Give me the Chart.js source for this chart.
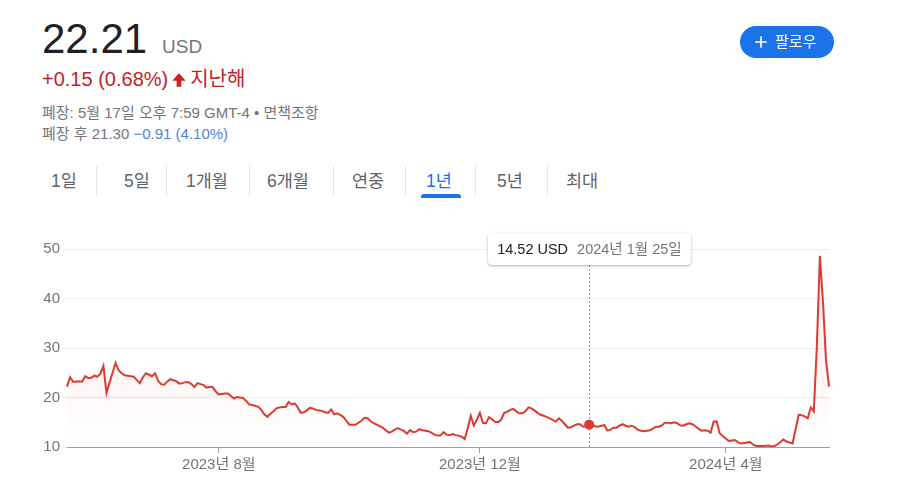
<!DOCTYPE html>
<html lang="ko">
<head>
<meta charset="utf-8">
<script src="https://cdn.jsdelivr.net/npm/chart.js@4.4.1/dist/chart.umd.min.js"></script>
<style>
  body { margin: 0; width: 900px; height: 500px; background: #fff; position: relative; overflow: hidden;
         font-family: "Liberation Sans", Arial, "Noto Sans CJK KR", sans-serif; color: #202124; }
  .abs { position: absolute; white-space: nowrap; }
  #quote { left: 42px; top: 18px; line-height: 1; }
  #quote .big { font-size: 42px; }
  #quote .cur { font-size: 19px; color: #70757a; margin-left: 15px; }
  #change { left: 42px; top: 69px; font-size: 20px; line-height: 20px; color: #c5221f; }
  #change svg { vertical-align: -2px; margin: 0 3px 0 3px; }
  .meta { left: 42px; font-size: 15px; line-height: 15px; color: #70757a; }
  .meta .neg { color: #4f83dc; }
  #follow { left: 740px; top: 26px; width: 94px; height: 32px; border-radius: 16px; background: #1a73e8;
            color: #fff; font-size: 15px; line-height: 32px; }
  #follow svg { position: absolute; left: 11px; top: 6px; }
  #follow span { position: absolute; left: 35px; }
  .tab { top: 169px; font-size: 17.5px; line-height: 24px; color: #5f6368; }
  .tab.on { color: #1a73e8; }
  .sep { top: 166px; width: 1px; height: 30px; background: #e3e5e8; }
  #underline { left: 421px; top: 194px; width: 40px; height: 4px; border-radius: 3px 3px 0 0; background: #1a73e8; }
  #chart { position: absolute; left: 0; top: 220px; }
  #tip { top: 233px; height: 32px; line-height: 32px; padding: 0 9px; background: #fff; border-radius: 4px;
         box-shadow: 0 1px 3px rgba(60,64,67,0.3), 0 1px 2px rgba(60,64,67,0.15); font-size: 14.5px; }
  #tip .tp { color: #202124; }
  #tip .td { color: #70757a; margin-left: 9px; }
</style>
</head>
<body>

<div id="quote" class="abs"><span class="big">22.21</span><span class="cur">USD</span></div>
<div id="change" class="abs">+0.15 (0.68%)<svg width="16" height="16" viewBox="0 0 24 24"><path fill="#c5221f" d="M12 2L22 13H15.5V22H8.5V13H2Z"/></svg>지난해</div>
<div class="abs meta" style="top:105px">폐장: 5월 17일 오후 7:59 GMT-4 • 면책조항</div>
<div class="abs meta" style="top:126px">폐장 후 21.30 <span class="neg">−0.91 (4.10%)</span></div>

<div id="follow" class="abs"><svg width="20" height="20" viewBox="0 0 24 24"><path fill="#fff" d="M19 13h-6v6h-2v-6H5v-2h6V5h2v6h6v2z"/></svg><span>팔로우</span></div>

<div class="abs tab" style="left:51px">1일</div>
<div class="abs tab" style="left:124px">5일</div>
<div class="abs tab" style="left:186px">1개월</div>
<div class="abs tab" style="left:267px">6개월</div>
<div class="abs tab" style="left:352px">연중</div>
<div class="abs tab on" style="left:426px">1년</div>
<div class="abs tab" style="left:497px">5년</div>
<div class="abs tab" style="left:566px">최대</div>
<div class="abs sep" style="left:96px"></div>
<div class="abs sep" style="left:166px"></div>
<div class="abs sep" style="left:249px"></div>
<div class="abs sep" style="left:333px"></div>
<div class="abs sep" style="left:405px"></div>
<div class="abs sep" style="left:475px"></div>
<div class="abs sep" style="left:547px"></div>
<div id="underline" class="abs"></div>

<canvas id="chart" width="900" height="280"></canvas>
<div id="tip" class="abs"><span class="tp"></span><span class="td"></span></div>

<script>
// trading days, 1 year
const tradingDates = [
  '2023-05-18','2023-05-19','2023-05-22','2023-05-23','2023-05-24','2023-05-25','2023-05-26','2023-05-30','2023-05-31',
  '2023-06-01','2023-06-02','2023-06-05','2023-06-06','2023-06-07','2023-06-08','2023-06-09','2023-06-12','2023-06-13','2023-06-14','2023-06-15','2023-06-16','2023-06-20','2023-06-21','2023-06-22','2023-06-23','2023-06-26','2023-06-27','2023-06-28','2023-06-29','2023-06-30',
  '2023-07-03','2023-07-05','2023-07-06','2023-07-07','2023-07-10','2023-07-11','2023-07-12','2023-07-13','2023-07-14','2023-07-17','2023-07-18','2023-07-19','2023-07-20','2023-07-21','2023-07-24','2023-07-25','2023-07-26','2023-07-27','2023-07-28','2023-07-31',
  '2023-08-01','2023-08-02','2023-08-03','2023-08-04','2023-08-07','2023-08-08','2023-08-09','2023-08-10','2023-08-11','2023-08-14','2023-08-15','2023-08-16','2023-08-17','2023-08-18','2023-08-21','2023-08-22','2023-08-23','2023-08-24','2023-08-25','2023-08-28','2023-08-29','2023-08-30','2023-08-31',
  '2023-09-01','2023-09-05','2023-09-06','2023-09-07','2023-09-08','2023-09-11','2023-09-12','2023-09-13','2023-09-14','2023-09-15','2023-09-18','2023-09-19','2023-09-20','2023-09-21','2023-09-22','2023-09-25','2023-09-26','2023-09-27','2023-09-28','2023-09-29',
  '2023-10-02','2023-10-03','2023-10-04','2023-10-05','2023-10-06','2023-10-09','2023-10-10','2023-10-11','2023-10-12','2023-10-13','2023-10-16','2023-10-17','2023-10-18','2023-10-19','2023-10-20','2023-10-23','2023-10-24','2023-10-25','2023-10-26','2023-10-27','2023-10-30','2023-10-31',
  '2023-11-01','2023-11-02','2023-11-03','2023-11-06','2023-11-07','2023-11-08','2023-11-09','2023-11-10','2023-11-13','2023-11-14','2023-11-15','2023-11-16','2023-11-17','2023-11-20','2023-11-21','2023-11-22','2023-11-24','2023-11-27','2023-11-28','2023-11-29','2023-11-30',
  '2023-12-01','2023-12-04','2023-12-05','2023-12-06','2023-12-07','2023-12-08','2023-12-11','2023-12-12','2023-12-13','2023-12-14','2023-12-15','2023-12-18','2023-12-19','2023-12-20','2023-12-21','2023-12-22','2023-12-26','2023-12-27','2023-12-28','2023-12-29',
  '2024-01-02','2024-01-03','2024-01-04','2024-01-05','2024-01-08','2024-01-09','2024-01-10','2024-01-11','2024-01-12','2024-01-16','2024-01-17','2024-01-18','2024-01-19','2024-01-22','2024-01-23','2024-01-24','2024-01-25','2024-01-26','2024-01-29','2024-01-30','2024-01-31',
  '2024-02-01','2024-02-02','2024-02-05','2024-02-06','2024-02-07','2024-02-08','2024-02-09','2024-02-12','2024-02-13','2024-02-14','2024-02-15','2024-02-16','2024-02-20','2024-02-21','2024-02-22','2024-02-23','2024-02-26','2024-02-27','2024-02-28','2024-02-29',
  '2024-03-01','2024-03-04','2024-03-05','2024-03-06','2024-03-07','2024-03-08','2024-03-11','2024-03-12','2024-03-13','2024-03-14','2024-03-15','2024-03-18','2024-03-19','2024-03-20','2024-03-21','2024-03-22','2024-03-25','2024-03-26','2024-03-27','2024-03-28',
  '2024-04-01','2024-04-02','2024-04-03','2024-04-04','2024-04-05','2024-04-08','2024-04-09','2024-04-10','2024-04-11','2024-04-12','2024-04-15','2024-04-16','2024-04-17','2024-04-18','2024-04-19','2024-04-22','2024-04-23','2024-04-24','2024-04-25','2024-04-26','2024-04-29','2024-04-30',
  '2024-05-01','2024-05-02','2024-05-03','2024-05-06','2024-05-07','2024-05-08','2024-05-09','2024-05-10','2024-05-13','2024-05-14','2024-05-15','2024-05-16','2024-05-17'
];

// closing price (USD)
const closePrices = [
  22.2, 24.1, 23.2, 23.2, 23.3, 23.2, 24.3, 23.9, 24.0, 24.4,
  24.2, 24.8, 26.4, 20.9, 23.0, 25.0, 27.0, 25.5, 24.9, 24.5,
  24.4, 24.3, 24.2, 23.5, 22.9, 24.1, 24.9, 24.6, 24.3, 24.9,
  23.4, 22.7, 22.6, 23.2, 23.7, 23.5, 23.3, 22.8, 22.9, 23.1,
  23.1, 22.7, 22.1, 22.9, 22.7, 22.5, 22.0, 22.1, 22.1, 21.2,
  20.6, 20.7, 20.8, 20.8, 20.3, 19.8, 20.1, 20.0, 19.9, 19.3,
  18.6, 18.5, 18.3, 18.1, 17.5, 16.6, 16.1, 16.7, 17.2, 17.8,
  18.0, 18.1, 18.1, 19.1, 18.6, 18.8, 18.0, 16.9, 17.0, 17.4,
  17.9, 17.8, 17.5, 17.4, 17.3, 17.0, 16.9, 17.6, 16.6, 16.8,
  16.5, 16.1, 15.3, 14.5, 14.5, 14.5, 14.9, 15.3, 15.9, 15.8,
  15.2, 14.8, 14.5, 14.2, 13.9, 13.4, 12.9, 13.1, 13.5, 13.8,
  13.5, 13.2, 12.7, 13.4, 13.0, 13.1, 13.6, 13.4, 13.3, 13.2,
  12.9, 12.5, 12.3, 12.3, 13.0, 12.5, 12.4, 12.6, 12.4, 12.3,
  12.1, 11.6, 13.8, 16.3, 14.3, 15.5, 16.9, 14.9, 14.8, 16.0,
  15.6, 15.1, 15.0, 15.5, 16.9, 17.1, 17.5, 17.7, 17.2, 16.8,
  16.8, 17.2, 18.0, 17.8, 17.4, 16.9, 16.5, 16.3, 16.1, 15.8,
  15.5, 15.1, 15.8, 15.3, 14.6, 13.9, 14.0, 14.3, 14.6, 14.6,
  14.1, 14.2, 14.52, 14.4, 14.2, 14.1, 14.3, 14.4, 13.3, 13.5,
  13.9, 13.9, 14.3, 14.6, 14.3, 14.1, 14.3, 14.0, 13.5, 13.3,
  13.2, 13.3, 13.4, 13.7, 14.1, 14.1, 14.4, 14.9, 14.9, 14.8,
  15.0, 14.8, 14.4, 14.3, 14.6, 14.8, 14.6, 14.2, 13.7, 13.3,
  13.4, 13.3, 12.9, 15.1, 15.2, 12.8, 12.2, 11.7, 11.2, 11.3,
  11.4, 11.0, 10.7, 10.8, 10.9, 11.0, 10.5, 10.2, 10.2, 10.2,
  10.2, 10.3, 10.1, 10.2, 10.5, 11.0, 11.5, 11.1, 10.9, 10.7,
  13.6, 16.5, 16.4, 16.2, 15.8, 18.0, 17.2, 30.5, 48.6, 39.5,
  27.7, 22.21
];

const tickDates = ['2023-08-01', '2023-12-01', '2024-04-01'];
const yTicks = [10, 20, 30, 40, 50];
const hoverDate = '2024-01-25';
const hoverIndex = tradingDates.indexOf(hoverDate);

const lineRed = '#db3b30';

function monthLabel(d) {
  const p = d.split('-');
  return p[0] + '년 ' + parseInt(p[1]) + '월';
}
function dayLabel(d) {
  const p = d.split('-');
  return p[0] + '년 ' + parseInt(p[1]) + '월 ' + parseInt(p[2]) + '일';
}

Chart.defaults.font.family = '"Liberation Sans", Arial, "Noto Sans CJK KR", sans-serif';

// dashed guide line + html tooltip at the hovered day
const hoverPlugin = {
  id: 'hoverLine',
  beforeDatasetsDraw(chart) {
    const { ctx, chartArea, scales } = chart;
    const x = Math.round(scales.x.getPixelForValue(hoverIndex)) + 0.5;
    ctx.save();
    ctx.strokeStyle = '#9aa0a6';
    ctx.lineWidth = 1;
    ctx.setLineDash([2, 2]);
    ctx.beginPath();
    ctx.moveTo(x, chartArea.top);
    ctx.lineTo(x, chartArea.bottom);
    ctx.stroke();
    ctx.restore();
  },
  afterRender(chart) {
    const tip = document.getElementById('tip');
    tip.querySelector('.tp').textContent = closePrices[hoverIndex].toFixed(2) + ' USD';
    tip.querySelector('.td').textContent = dayLabel(hoverDate);
    const x = chart.scales.x.getPixelForValue(hoverIndex);
    tip.style.left = (x - tip.offsetWidth / 2) + 'px';
  }
};

new Chart(document.getElementById('chart'), {
  type: 'line',
  data: {
    labels: tradingDates,
    datasets: [{
      data: closePrices,
      borderColor: lineRed,
      borderWidth: 2,
      tension: 0,
      pointRadius: c => c.dataIndex === hoverIndex ? 5 : 0,
      pointBackgroundColor: lineRed,
      pointBorderWidth: 0,
      fill: 'start',
      backgroundColor: c => {
        const area = c.chart.chartArea;
        if (!area) return 'transparent';
        const g = c.chart.ctx.createLinearGradient(0, area.top, 0, area.bottom);
        g.addColorStop(0, 'rgba(217,48,37,0.12)');
        g.addColorStop(1, 'rgba(217,48,37,0)');
        return g;
      }
    }]
  },
  options: {
    responsive: false,
    animation: false,
    events: [],
    layout: { padding: { left: 0, right: 71, top: 29, bottom: 0 } },
    plugins: { legend: { display: false }, tooltip: { enabled: false } },
    scales: {
      x: {
        grid: { drawOnChartArea: false, tickLength: 6, color: '#9aa0a6' },
        border: { color: '#9aa0a6' },
        ticks: {
          autoSkip: false, maxRotation: 0, padding: 3,
          color: '#70757a', font: { size: 15 },
          callback: function (v) { return monthLabel(this.getLabelForValue(v)); }
        },
        afterBuildTicks(scale) {
          scale.ticks = tickDates.map(d => ({ value: tradingDates.indexOf(d) }));
        },
        afterFit(scale) { scale.height = 53; }
      },
      y: {
        min: yTicks[0],
        max: yTicks[yTicks.length - 1],
        ticks: { stepSize: 10, padding: 3, color: '#70757a', font: { size: 15 } },
        grid: { color: '#ededed', tickLength: 4 },
        border: { display: false },
        afterFit(scale) { scale.width = 67; }
      }
    }
  },
  plugins: [hoverPlugin]
});
</script>
</body>
</html>
